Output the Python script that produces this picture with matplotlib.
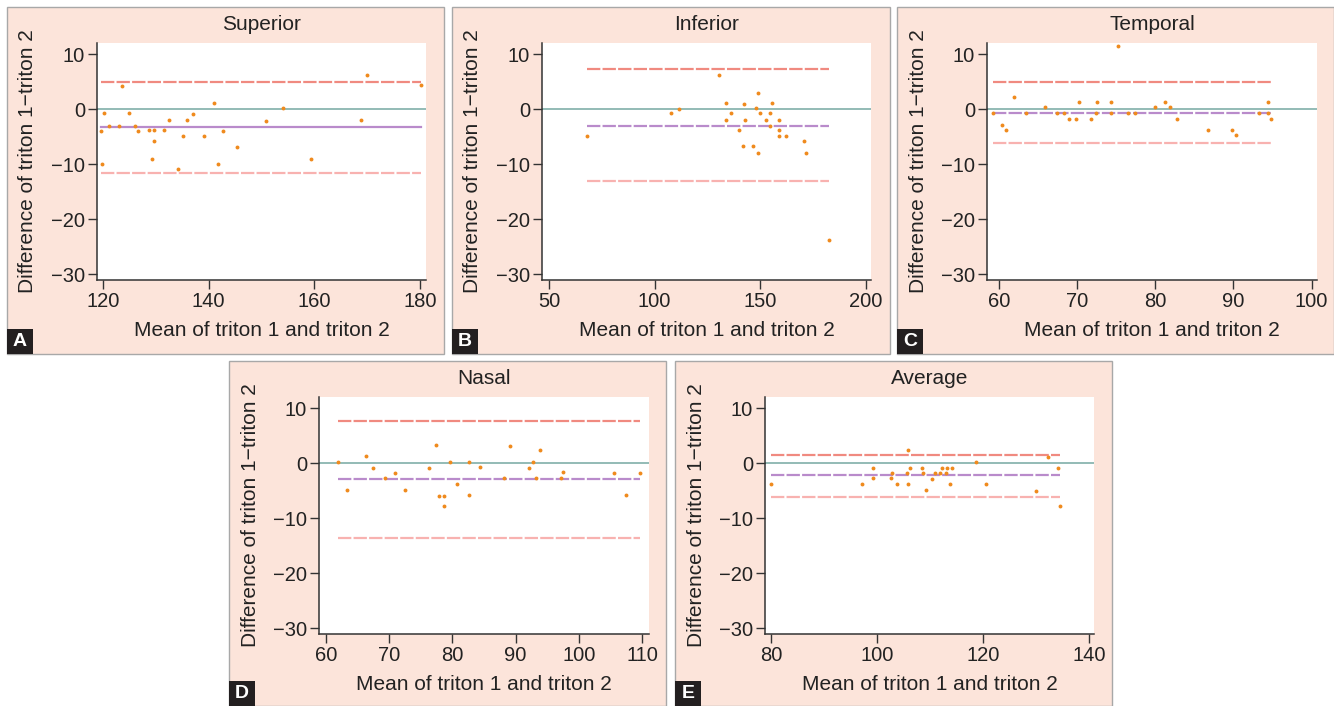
import matplotlib.pyplot as plt
from matplotlib.patches import Rectangle

plt.rcParams['font.family'] = ['Liberation Sans', 'DejaVu Sans']

# Bland-Altman data
sup_x = [119.7, 119.8, 120.2, 121.1, 123.1, 123.7, 125.0, 126.1, 126.7, 128.7,
         129.3, 129.6, 129.7, 131.6, 132.6, 134.2, 135.2, 135.9, 137.0, 139.1,
         141.0, 141.7, 142.7, 145.3, 150.9, 154.0, 159.4, 168.9, 169.9, 180.1]
sup_y = [-3.9, -9.9, -0.7, -3.0, -3.0, 4.2, -0.7, -3.0, -3.9, -3.8,
         -9.0, -5.8, -3.8, -3.8, -1.9, -10.8, -4.8, -1.9, -0.8, -4.8,
         1.1, -9.9, -3.9, -6.8, -2.1, 0.2, -9.0, -1.9, 6.2, 4.4]

inf_x = [68.1, 107.9, 111.7, 130.6, 133.8, 133.6, 136.1, 139.7, 142.1, 142.0,
         142.6, 146.7, 147.8, 149.1, 149.8, 149.1, 152.5, 154.7, 154.7, 155.7,
         158.8, 158.8, 158.8, 162.0, 170.8, 171.8, 182.5]
inf_y = [-4.8, -0.7, 0.1, 6.2, 1.2, -1.9, -0.7, -3.8, 1.0, -6.7,
         -2.0, -6.7, 0.2, 3.0, -0.7, -7.9, -1.9, -0.7, -3.0, 1.2,
         -2.0, -3.7, -4.8, -4.8, -5.8, -7.9, -23.8]

tem_x = [59.3, 60.4, 60.9, 62.0, 63.5, 65.9, 67.4, 68.4, 69.0, 69.9,
         70.3, 71.8, 72.4, 72.6, 74.4, 74.4, 75.3, 76.5, 77.4, 80.0,
         81.3, 81.9, 82.8, 86.8, 89.8, 90.3, 93.3, 94.4, 94.4, 94.8]
tem_y = [-0.7, -2.8, -3.8, 2.2, -0.7, 0.4, -0.7, -0.7, -1.8, -1.8,
         1.3, -1.8, -0.7, 1.3, 1.3, -0.7, 11.4, -0.7, -0.7, 0.4,
         1.3, 0.4, -1.8, -3.8, -3.8, -4.7, -0.7, 1.3, -0.7, -1.8]

nas_x = [61.9, 63.4, 66.4, 67.4, 69.4, 70.9, 72.5, 76.3, 77.4, 77.9,
         78.7, 78.7, 79.7, 80.8, 82.7, 82.7, 84.4, 88.1, 89.1, 92.1,
         92.7, 93.3, 93.8, 97.2, 97.5, 105.5, 107.5, 109.7]
nas_y = [0.2, -4.8, 1.3, -0.8, -2.7, -1.7, -4.8, -0.8, 3.3, -5.9,
         -5.9, -7.8, 0.2, -3.7, 0.2, -5.8, -0.7, -2.7, 3.2, -0.8,
         0.2, -2.7, 2.4, -2.7, -1.6, -1.8, -5.8, -1.8]

avg_x = [80.0, 97.1, 99.3, 99.3, 102.6, 102.9, 103.8, 105.7, 105.8, 105.8,
         106.3, 108.4, 108.7, 109.2, 110.3, 111.0, 111.9, 112.2, 113.0, 113.2,
         113.8, 114.2, 118.7, 120.6, 130.0, 132.2, 134.1, 134.4]
avg_y = [-3.8, -3.7, -0.8, -2.7, -2.7, -1.8, -3.7, -1.8, -3.8, 2.3,
         -0.8, -0.8, -1.8, -4.9, -2.8, -1.8, -1.8, -0.8, -1.8, -0.8,
         -3.8, -0.8, 0.2, -3.7, -5.0, 1.2, -0.9, -7.8]

titles = ['Superior', 'Inferior', 'Temporal', 'Nasal', 'Average']
letters = ['A', 'B', 'C', 'D', 'E']
mean_diff = [-3.3, -3.0, -0.7, -2.9, -2.2]
upper_loa = [4.9, 7.2, 4.9, 7.7, 1.5]
lower_loa = [-11.5, -13.0, -6.1, -13.5, -6.2]
xticks = [[120, 140, 160, 180], [50, 100, 150, 200], [60, 70, 80, 90, 100],
          [60, 70, 80, 90, 100, 110], [80, 100, 120, 140]]
xlims = [(118.9, 181.1), (46.7, 202.4), (58.5, 100.7), (58.9, 111.1), (78.9, 140.9)]
yticks = [10, 0, -10, -20, -30]

xs = [sup_x, inf_x, tem_x, nas_x, avg_x]
ys = [sup_y, inf_y, tem_y, nas_y, avg_y]

# layout in pixels: panel box (l, t, r, b) and plot region (l, t, r, b)
boxes = [(7, 7, 444, 354), (452, 7, 890, 354), (897, 7, 1334, 354),
         (229, 361, 666, 706), (675, 361, 1112, 706)]
plots = [(97, 43, 426, 280), (542, 43, 871, 280), (987, 43, 1317, 280),
         (319, 397, 649, 634), (765, 397, 1094, 634)]
mean_styles = ['-', (0, (6, 1)), (0, (6, 1)), (0, (6, 1)), (0, (6, 1))]

W, H = 1334, 706
fig = plt.figure(figsize=(W / 100, H / 100), dpi=100)

peach = '#fce4da'
for i in range(5):
    bl, bt, br, bb = boxes[i]
    fig.add_artist(Rectangle((bl / W, 1 - bb / H), (br - bl) / W, (bb - bt) / H,
                             transform=fig.transFigure, facecolor=peach,
                             edgecolor='#a8a8a8', lw=1, zorder=-5))
    fig.add_artist(Rectangle((bl / W, 1 - bb / H), 26 / W, 25 / H,
                             transform=fig.transFigure, facecolor='#231f20',
                             edgecolor='none', zorder=5))
    fig.text((bl + 13) / W, 1 - (bb - 12.5) / H, letters[i], color='white',
             fontsize=14, fontweight='bold', ha='center', va='center', zorder=6)

    pl, pt, pr, pb = plots[i]
    ax = fig.add_axes([pl / W, 1 - pb / H, (pr - pl) / W, (pb - pt) / H])
    ax.set_facecolor('white')
    for s in ['top', 'right']:
        ax.spines[s].set_visible(False)
    for s in ['left', 'bottom']:
        ax.spines[s].set_color('#333333')
        ax.spines[s].set_linewidth(1.1)

    x, y = xs[i], ys[i]
    x0, x1 = min(x), max(x)
    ax.axhline(0, color='#93bbb6', lw=1.4, zorder=1)
    ax.plot([x0, x1], [upper_loa[i]] * 2, color='#f08a80', lw=1.6,
            ls=(0, (6, 1)), zorder=2)
    ax.plot([x0, x1], [mean_diff[i]] * 2, color='#b98bcb', lw=1.6,
            ls=mean_styles[i], zorder=2)
    ax.plot([x0, x1], [lower_loa[i]] * 2, color='#f8b2b0', lw=1.6,
            ls=(0, (6, 1)), zorder=2)
    ax.plot(x, y, 'o', color='#ef8a1d', ms=2.8, mec='none', zorder=3)

    ax.set_xlim(*xlims[i])
    ax.set_ylim(-31, 12)
    ax.set_xticks(xticks[i])
    ax.set_yticks(yticks)
    ax.set_yticklabels(['10', '0', '\u221210', '\u221220', '\u221230'])
    ax.tick_params(direction='out', length=6.5, width=1, color='#333333',
                   labelsize=14.5, labelcolor='#222222', pad=2)

    hpx, wpx = pb - pt, pr - pl
    ax.text(0.5, 1 + 18 / hpx, titles[i], transform=ax.transAxes,
            ha='center', va='center', fontsize=15, color='#222222')
    ax.text(0.5, -51 / hpx, 'Mean of triton 1 and triton 2', transform=ax.transAxes,
            ha='center', va='center', fontsize=15, color='#222222')
    ax.text(-69 / wpx, 0.5, 'Difference of triton 1\u2212triton 2', transform=ax.transAxes,
            ha='center', va='center', rotation=90, fontsize=15, color='#222222')

fig.savefig('out.png', dpi=100, facecolor='white')
